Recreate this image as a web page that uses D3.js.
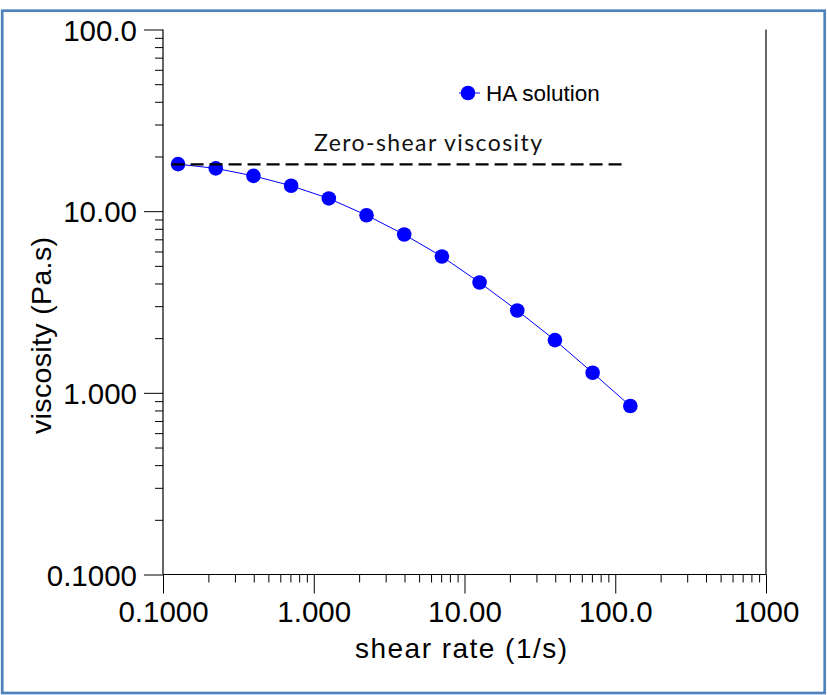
<!DOCTYPE html>
<html>
<head>
<meta charset="utf-8">
<script src="https://cdn.jsdelivr.net/npm/d3@7"></script>
<style>
  html, body { margin: 0; padding: 0; background: #fff; }
  svg { display: block; }
</style>
</head>
<body>
<svg id="chart" width="827" height="695"></svg>
<script>
// ---- data ----
const shearRate = [0.1259, 0.2239, 0.3981, 0.7079, 1.259, 2.239, 3.981, 7.079, 12.59, 22.39, 39.81, 70.79, 125.9];
const viscosity = [18.15, 17.2, 15.65, 13.8, 11.75, 9.5, 7.44, 5.63, 4.05, 2.84, 1.95, 1.29, 0.846];
const zeroShearX = [0.114, 112];
const zeroShearY = [18.1, 18.1];
const xTickValues = [0.1, 1, 10, 100, 1000];
const xTickLabels = ["0.1000", "1.000", "10.00", "100.0", "1000"];
const yTickValues = [0.1, 1, 10, 100];
const yTickLabels = ["0.1000", "1.000", "10.00", "100.0"];
const seriesName = "HA solution";
const annotationText = "Zero-shear viscosity";
const xTitle = "shear rate (1/s)";
const yTitle = "viscosity (Pa.s)";

// ---- layout ----
const svg = d3.select("#chart");
const x = d3.scaleLog().domain([0.1, 1000]).range([163, 766]);
const y = d3.scaleLog().domain([0.1, 100]).range([574.5, 29.5]);
const FONT = "'Liberation Sans', Arial, sans-serif";

// border
svg.append("rect")
  .attr("x", 2.2).attr("y", 10.7)
  .attr("width", 822.5).attr("height", 682.3)
  .attr("fill", "none").attr("stroke", "#4f81bd").attr("stroke-width", 2.7);

// minor ticks
function minors(lo, hi) {
  const out = [];
  for (let e = lo; e < hi; e++) for (let k = 2; k <= 9; k++) out.push(k * Math.pow(10, e));
  return out;
}

svg.append("g").attr("transform", "translate(163,0)")
  .call(d3.axisLeft(y).tickValues(minors(-1, 2)).tickSize(8).tickFormat(""));
const yMajor = svg.append("g").attr("transform", "translate(163,0)")
  .call(d3.axisLeft(y).tickValues(yTickValues).tickSize(19).tickPadding(7)
    .tickFormat((d, i) => yTickLabels[i]));
yMajor.selectAll("text").attr("dy", "0.36em");

svg.append("g").attr("transform", "translate(0,574.5)")
  .call(d3.axisBottom(x).tickValues(minors(-1, 3)).tickSize(8).tickFormat(""));
svg.append("g").attr("transform", "translate(0,574.5)")
  .call(d3.axisBottom(x).tickValues(xTickValues).tickSize(19).tickPadding(8)
    .tickFormat((d, i) => xTickLabels[i]));

svg.selectAll(".domain").remove();
svg.selectAll(".tick line").attr("stroke", "#000").attr("stroke-width", 1);
svg.selectAll(".tick text").attr("font-family", FONT).attr("font-size", 29.5).attr("fill", "#000");

// axis lines
svg.append("line").attr("x1", 163).attr("x2", 163).attr("y1", y(100)).attr("y2", y(0.1))
  .attr("stroke", "#000").attr("stroke-width", 1.2);
svg.append("line").attr("x1", 163).attr("x2", 766).attr("y1", y(0.1)).attr("y2", y(0.1))
  .attr("stroke", "#000").attr("stroke-width", 1.2);
svg.append("line").attr("x1", x(1000)).attr("x2", x(1000)).attr("y1", y(100)).attr("y2", y(0.1))
  .attr("stroke", "#000").attr("stroke-width", 1.2);

// axis titles
svg.append("text").attr("x", 355).attr("y", 658)
  .attr("font-family", FONT).attr("font-size", 28).attr("fill", "#000")
  .attr("textLength", 212).attr("lengthAdjust", "spacing")
  .text(xTitle);
svg.append("text").attr("transform", "translate(51,434) rotate(-90)")
  .attr("font-family", FONT).attr("font-size", 28.5).attr("fill", "#000")
  .attr("textLength", 197).attr("lengthAdjust", "spacing")
  .text(yTitle);

// series
const pts = shearRate.map((d, i) => [d, viscosity[i]]);
svg.append("path").datum(pts)
  .attr("d", d3.line().x(d => x(d[0])).y(d => y(d[1])))
  .attr("fill", "none").attr("stroke", "#0000ff").attr("stroke-width", 1);
svg.append("g").selectAll("circle").data(pts).join("circle")
  .attr("cx", d => x(d[0])).attr("cy", d => y(d[1])).attr("r", 7.3)
  .attr("fill", "#0000ff");

// zero-shear dashed line
svg.append("line")
  .attr("x1", x(zeroShearX[0])).attr("x2", x(zeroShearX[1]))
  .attr("y1", y(zeroShearY[0])).attr("y2", y(zeroShearY[1]))
  .attr("stroke", "#000").attr("stroke-width", 2.3).attr("stroke-dasharray", "13,6");
svg.append("text").attr("x", 314).attr("y", 151)
  .attr("font-family", "Lato, 'Open Sans', sans-serif").attr("font-size", 23).attr("fill", "#111")
  .attr("textLength", 228).attr("lengthAdjust", "spacing")
  .text(annotationText);

// legend
const lg = svg.append("g").attr("transform", "translate(468,93)");
lg.append("line").attr("x1", -9).attr("x2", 12).attr("stroke", "#0000ff").attr("stroke-width", 1);
lg.append("circle").attr("r", 7.3).attr("fill", "#0000ff");
lg.append("text").attr("x", 18).attr("y", 8)
  .attr("font-family", FONT).attr("font-size", 22.5).attr("fill", "#000")
  .text(seriesName);
</script>
</body>
</html>
